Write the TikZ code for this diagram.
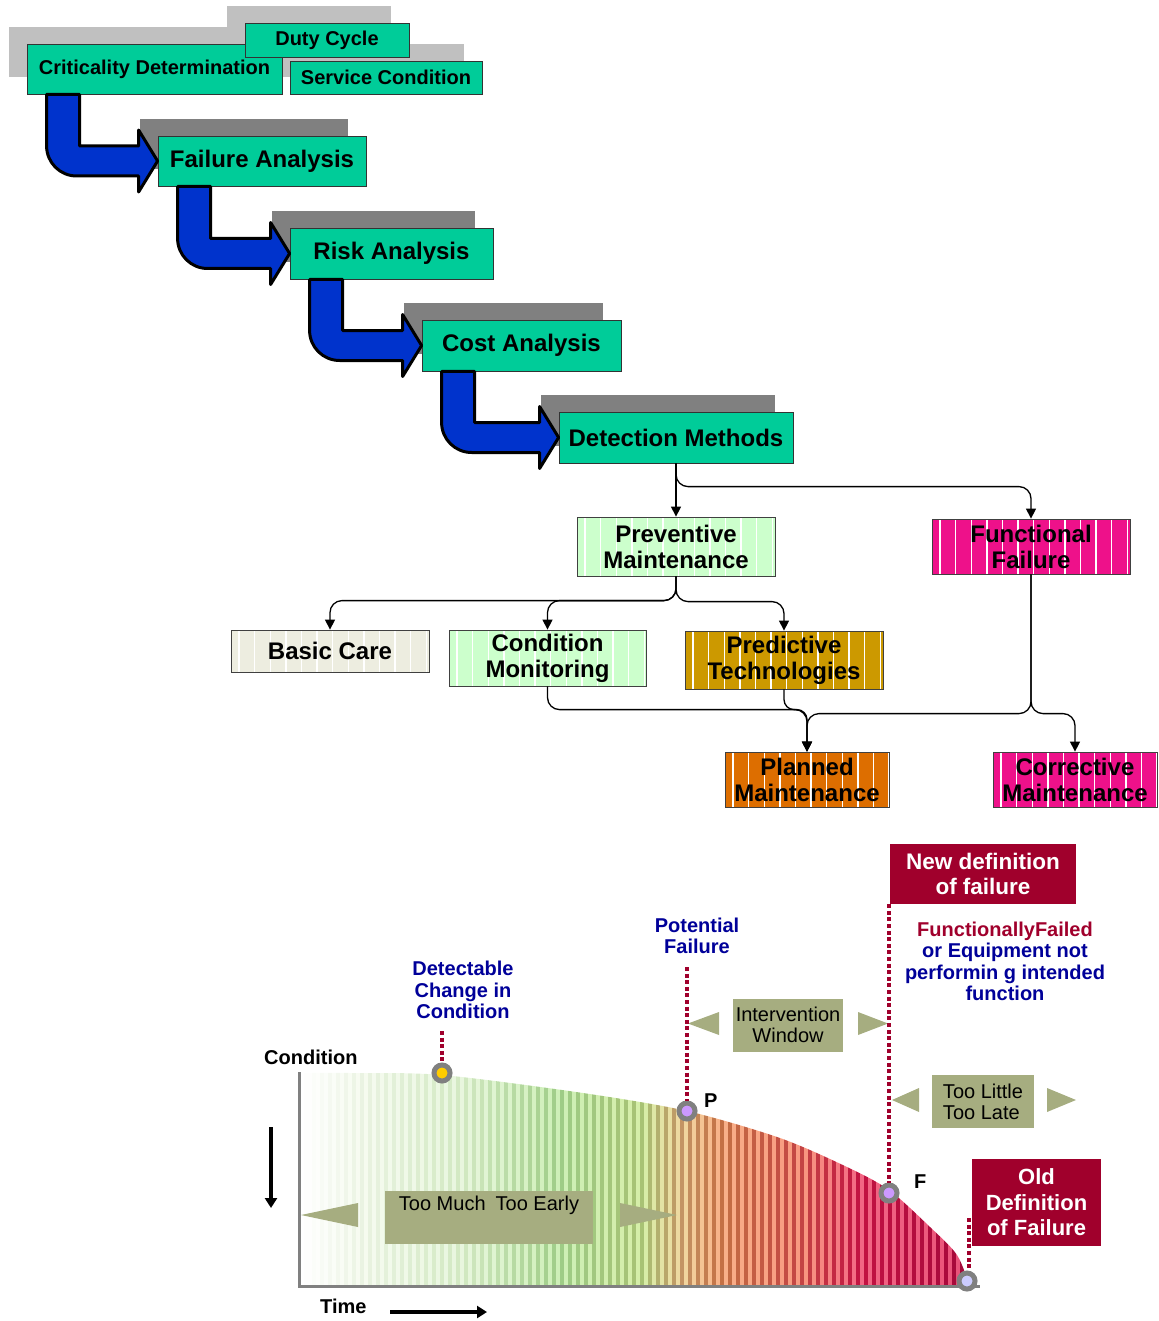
\documentclass[tikz,border=0pt]{standalone}
\usepackage{fontspec}
\setmainfont{Liberation Sans}
\usetikzlibrary{arrows.meta,shadows,calc}
\definecolor{teal0}{HTML}{00CC99}
\definecolor{shlight}{HTML}{C0C0C0}
\definecolor{shdark}{HTML}{808080}
\definecolor{arrblue}{HTML}{0033CC}
\definecolor{pmgreen}{HTML}{CCFFCC}
\definecolor{bcgray}{HTML}{EDEDE0}
\definecolor{ptgold}{HTML}{CC9900}
\definecolor{plorange}{HTML}{DD6E00}
\definecolor{ffpink}{HTML}{EE118A}
\definecolor{darkred}{HTML}{A0002C}
\definecolor{navy}{HTML}{000099}
\definecolor{olive}{HTML}{A6AD80}
\definecolor{dotgray}{HTML}{808080}
\definecolor{dotyel}{HTML}{FFCC00}
\definecolor{dotlil}{HTML}{CC99FF}
\definecolor{dotlav}{HTML}{CCCCFF}
% light stripes
\definecolor{L0}{HTML}{FFFFFF}
\definecolor{L1}{HTML}{F6FBF0}
\definecolor{L2}{HTML}{E8F6DE}
\definecolor{L3}{HTML}{CDEFB6}
\definecolor{L4}{HTML}{D6EEA8}
\definecolor{L5}{HTML}{F0D8A0}
\definecolor{L6}{HTML}{F8B088}
\definecolor{L7}{HTML}{F89880}
\definecolor{L8}{HTML}{F26684}
\definecolor{L9}{HTML}{E85078}
% dark stripes
\definecolor{D0}{HTML}{FFFFFF}
\definecolor{D1}{HTML}{EAF3E2}
\definecolor{D2}{HTML}{D2E9C2}
\definecolor{D3}{HTML}{9ECC86}
\definecolor{D4}{HTML}{A8C274}
\definecolor{D5}{HTML}{C49464}
\definecolor{D6}{HTML}{C47044}
\definecolor{D7}{HTML}{C44444}
\definecolor{D8}{HTML}{C21242}
\definecolor{D9}{HTML}{A2083A}
\newcommand\stairarrow[2]{%
  \draw[barrow] let \p1=(#1.south west), \p2=(#2.west) in
    (\x1+20pt,\y1) -- (\x1+53pt,\y1) -- (\x1+53pt,\y2+15pt) -- (\x2-19pt,\y2+15pt)
    -- (\x2-19pt,\y2+31pt) -- (\x2,\y2) -- (\x2-19pt,\y2-31pt) -- (\x2-19pt,\y2-15pt)
    -- (\x1+50pt,\y2-15pt) .. controls (\x1+33.4pt,\y2-15pt) and (\x1+20pt,\y2-1.6pt) .. (\x1+20pt,\y2+15pt) -- cycle;}
\begin{document}
\begin{tikzpicture}[x=1pt,y=-1pt,
  tbox/.style={draw=black!80, line width=0.8pt, fill=teal0, inner sep=0pt, font=\bfseries\fontsize{24}{26}\selectfont},
  topbox/.style={tbox, font=\bfseries\fontsize{20}{22}\selectfont, drop shadow={shadow xshift=-18pt, shadow yshift=17pt, fill=shlight, opacity=1}},
  stepbox/.style={tbox, drop shadow={shadow xshift=-18pt, shadow yshift=17pt, fill=shdark, opacity=1}},
  barrow/.style={fill=arrblue, draw=black, line width=3pt, line join=round},
  mbox/.style={draw=black!75, line width=0.8pt, inner sep=0pt, align=center,
    font=\bfseries\fontsize{24}{26}\selectfont,
    path picture={\foreach \i in {0,...,14}{\draw[white, line width=1.4pt]
      ([xshift={8pt+\i*15.6pt}]path picture bounding box.south west) --
      ([xshift={8pt+\i*15.6pt}]path picture bounding box.north west);}}},
  conn/.style={draw=black, line width=1.3pt, rounded corners=12pt, -{Triangle[length=10pt,width=10pt]}},
  dotline/.style={draw=darkred, line width=4pt, dash pattern=on 4pt off 2.6pt},
  dotnode/.style={circle, draw=dotgray, line width=5pt, minimum size=16pt, inner sep=0pt},
  olivebox/.style={fill=olive, inner sep=0pt, font=\fontsize{20}{21}\selectfont},
  redbox/.style={fill=darkred, text=white, inner sep=0pt, align=center, font=\bfseries\fontsize{22.5}{25}\selectfont},
  bluelab/.style={text=navy, inner sep=0pt, align=center, font=\bfseries\fontsize{20}{21.5}\selectfont},
  blacklab/.style={inner sep=0pt, anchor=west, font=\bfseries\fontsize{20}{22}\selectfont},
  bigarrow/.style={line width=4pt, -{Triangle[length=10pt,width=12pt]}}
]
\useasboundingbox (0,0) rectangle (1158,1321);

% ---------- top staircase ----------
\node[topbox, minimum width=192pt, minimum height=33pt] (sc) at (386,77.5) {Service Condition};
\node[topbox, minimum width=255pt, minimum height=50pt] (cd) at (154.5,69) {Criticality Determination};
\node[topbox, minimum width=164pt, minimum height=34pt] (dc) at (327,40) {Duty Cycle};
\node[stepbox, minimum width=208pt, minimum height=50pt] (fa) at (262,161) {Failure Analysis};
\node[stepbox, minimum width=203pt, minimum height=51pt] (ra) at (391.5,253.5) {Risk Analysis};
\node[stepbox, minimum width=199pt, minimum height=51pt] (ca) at (521.5,345.5) {Cost Analysis};
\node[stepbox, minimum width=234pt, minimum height=51pt] (dm) at (676,437.5) {Detection Methods};
\stairarrow{cd}{fa}
\stairarrow{fa}{ra}
\stairarrow{ra}{ca}
\stairarrow{ca}{dm}

% ---------- maintenance tree ----------
\node[mbox, fill=pmgreen, minimum width=198pt, minimum height=59pt] (pm) at (676,546.5) {Preventive\\Maintenance};
\node[mbox, fill=ffpink, minimum width=198pt, minimum height=55pt] (ff) at (1031,546.5) {Functional\\Failure};
\node[mbox, fill=bcgray, minimum width=198pt, minimum height=42pt] (bc) at (330,651) {Basic Care};
\node[mbox, fill=pmgreen, minimum width=197pt, minimum height=56pt] (cm) at (547.5,658) {Condition\\Monitoring};
\node[mbox, fill=ptgold, minimum width=198pt, minimum height=58pt] (pt) at (784,660) {Predictive\\Technologies};
\node[mbox, fill=plorange, minimum width=164pt, minimum height=55pt] (pl) at (807,779.5) {Planned\\Maintenance};
\node[mbox, fill=ffpink, minimum width=164pt, minimum height=55pt] (co) at (1075,779.5) {Corrective\\Maintenance};

\draw[conn] (dm.south) -- (pm.north);
\draw[conn] (dm.south) |- ([yshift=32pt]ff.north) -- (ff.north);
\draw[conn] (pm.south) |- ([yshift=29pt]bc.north) -- (bc.north);
\draw[conn] (pm.south) |- ([yshift=29pt]cm.north) -- (cm.north);
\draw[conn] (pm.south) |- ([yshift=29pt]pt.north) -- (pt.north);
\draw[conn] (cm.south) |- ([yshift=42pt]pl.north) -- (pl.north);
\draw[conn, rounded corners=10pt] (pt.south) |- ([yshift=42pt]pl.north) -- (pl.north);
\draw[conn] (ff.south) |- ([yshift=38pt]pl.north) -- (pl.north);
\draw[conn] (ff.south) |- ([yshift=38pt]co.north) -- (co.north);

% ---------- condition chart ----------
\begin{scope}
  \clip (300,1287) -- plot[smooth] coordinates {(300,1073) (350,1073) (442,1075) (583,1093) (687,1111) (780,1138) (847,1167) (889,1190) (930,1227) (957,1255) (970,1287)} -- cycle;
  \foreach \xa/\xb/\la/\lb/\da/\db in {300/360/L0/L1/D0/D1,360/460/L1/L2/D1/D2,460/560/L2/L3/D2/D3,560/640/L3/L4/D3/D4,640/680/L4/L5/D4/D5,680/720/L5/L6/D5/D6,720/800/L6/L7/D6/D7,800/860/L7/L8/D7/D8,860/972/L8/L9/D8/D9}{%
    \pgfmathtruncatemacro\nn{(\xb-\xa)/4-1}%
    \foreach \k in {0,...,\nn}{%
      \pgfmathsetmacro\pc{100-100*\k*4/(\xb-\xa)}%
      \pgfmathtruncatemacro\odd{mod(\xa/4+\k,2)}%
      \pgfmathsetmacro\xx{\xa+4*\k}%
      \ifnum\odd=1 \fill[\la!\pc!\lb] (\xx,1060) rectangle ({\xx+4.2},1290);
      \else \fill[\da!\pc!\db] (\xx,1060) rectangle ({\xx+4.2},1290);\fi
    }}
\end{scope}
\draw[draw=dotgray, line width=3pt] (299,1072) -- (299,1286) -- (980,1286);

% triangles
\fill[olive] (688,1023.5) -- (719,1012) -- (719,1035) -- cycle;
\fill[olive] (888,1023.5) -- (858,1012) -- (858,1035) -- cycle;
\fill[olive] (892,1100) -- (919,1088) -- (919,1112) -- cycle;
\fill[olive] (1076,1100) -- (1047,1088) -- (1047,1112) -- cycle;
\fill[olive] (301,1215) -- (358,1203) -- (358,1227) -- cycle;
\fill[olive] (677,1215) -- (620,1203) -- (620,1227) -- cycle;

\node[olivebox, minimum width=110pt, minimum height=53pt, align=center] (iw) at (788,1025) {Intervention\\Window};
\node[olivebox, minimum width=102pt, minimum height=53pt, align=left] (tl) at (983,1101.5) {Too Little\\Too Late};
\node[olivebox, minimum width=208pt, minimum height=53pt, align=center] (tm) at (489,1217) {Too Much\hspace{0.5em}Too Early\\\strut};

\node[redbox, minimum width=186pt, minimum height=60pt] (nd) at (983,874) {New definition\\of failure};
\node[redbox, minimum width=129pt, minimum height=87pt, font=\bfseries\fontsize{22}{25.5}\selectfont] (od) at (1036.5,1202.5) {Old\\Definition\\of Failure};

\node[bluelab] (dcl) at (463,990) {Detectable\\Change in\\Condition};
\node[bluelab] (pfl) at (697,936) {Potential\\Failure};
\node[bluelab] (ffl) at (1005,961.5) {\textcolor{darkred}{FunctionallyFailed}\\or Equipment not\\performin g intended\\function};

% dots and dotted lines
\coordinate (dtop) at (442,1031);
\coordinate (ptop) at (687,967);
\coordinate (otop) at (969,1218);
\node[dotnode, fill=dotyel] (d1) at (442,1073) {};
\node[dotnode, fill=dotlil] (p1) at (687,1111) {};
\node[dotnode, fill=dotlil] (f1) at (889,1193) {};
\node[dotnode, fill=dotlav] (e1) at (967,1281) {};
\draw[dotline] (dtop) -- (d1.north);
\draw[dotline] (ptop) -- (p1.north);
\draw[dotline] (f1 |- nd.south) -- (f1.north);
\draw[dotline] (otop) -- (otop |- e1.north);

\node[blacklab] (pl1) at (704,1101) {P};
\node[blacklab] (fl1) at (914,1182) {F};
\node[blacklab] (cond) at (264,1057) {Condition};
\node[blacklab] (time) at (320,1306) {Time};

\coordinate (da1) at (271,1127);
\coordinate (da2) at (271,1208);
\coordinate (ta1) at (390,1312);
\coordinate (ta2) at (487,1312);
\draw[bigarrow] (da1) -- (da2);
\draw[bigarrow] (ta1) -- (ta2);
\end{tikzpicture}
\end{document}
